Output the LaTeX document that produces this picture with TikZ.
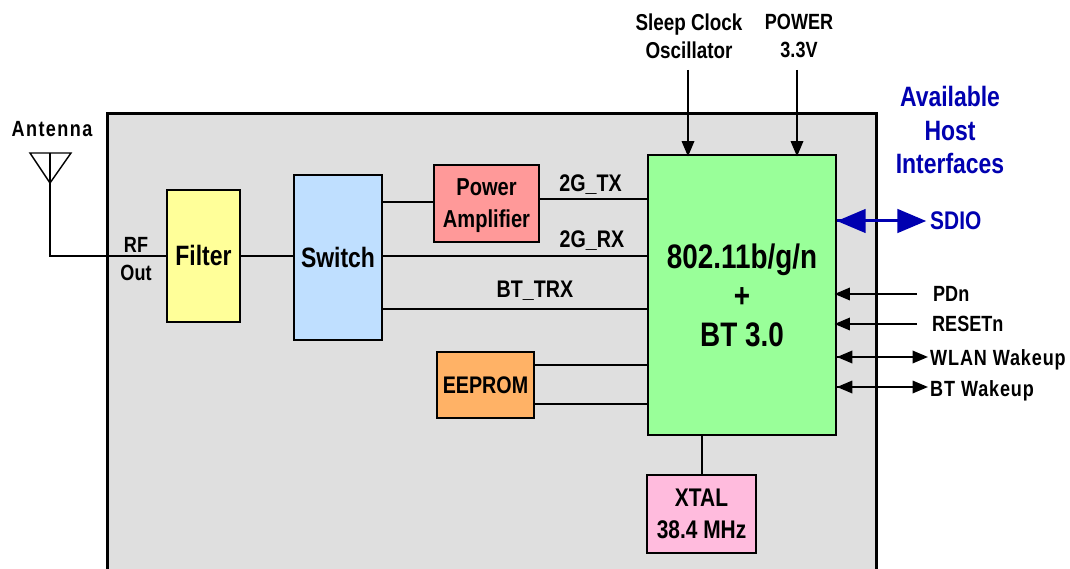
\documentclass[tikz,border=0pt]{standalone}
\usepackage{fontspec}
\setmainfont[FakeStretch=0.82]{Liberation Sans Bold}
\newfontfamily\widefont[FakeStretch=0.82,LetterSpace=4]{Liberation Sans Bold}
\newfontfamily\widerfont[FakeStretch=0.82,LetterSpace=6.5]{Liberation Sans Bold}
\usetikzlibrary{arrows}
\usetikzlibrary{decorations.markings}
\definecolor{chipgray}{HTML}{DFDFDF}
\definecolor{filteryellow}{HTML}{FFFF99}
\definecolor{switchblue}{HTML}{BFDFFF}
\definecolor{amppink}{HTML}{FF9999}
\definecolor{socgreen}{HTML}{99FF99}
\definecolor{eepromorange}{HTML}{FFB266}
\definecolor{xtalpink}{HTML}{FFBBDD}
\definecolor{hostblue}{HTML}{0000B0}
\tikzset{block/.style = {draw, line width=2pt, inner sep=0pt, align=center},
         wire/.style = {line width=2pt},
         small/.style = {inner sep=0pt, align=center, font=\fontsize{22}{28}\selectfont},
         tipend/.style = {decoration={markings,
                                      mark=at position 1 with {\arrow[xshift=2.4pt, scale=#1]{triangle 45}}},
                          postaction={decorate}},
         tipboth/.style = {decoration={markings,
                                       mark=at position 0 with {\arrowreversed[scale=#1]{triangle 45}},
                                       mark=at position 1 with {\arrow[xshift=#1*2.4pt, scale=#1]{triangle 45}}},
                           postaction={decorate}}}

\begin{document}
\begin{tikzpicture}[x=1pt, y=-1pt]
      \useasboundingbox (0, 0) rectangle (1070, 569);

      \fill [chipgray] (107, 114) rectangle (876, 569);
      \draw [line width=3pt] (107, 569) -- (107, 114) -- (876, 114) -- (876, 569);

      \node (filter) [block, fill=filteryellow, minimum width=73pt, minimum height=131pt, font=\fontsize{28}{32}\selectfont] at (203.5, 256) {\raisebox{1pt}{Filter}};
      \node (switch) [block, fill=switchblue, minimum width=88pt, minimum height=165pt, font=\fontsize{28}{32}\selectfont] at (338, 257.5) {\raisebox{1pt}{Switch}};
      \node (amp) [block, fill=amppink, minimum width=105pt, minimum height=77pt, font=\fontsize{24.5}{32}\selectfont] at (486.5, 203.5) {\rule{0pt}{22pt}Power\\Amplifier};
      \node (soc) [block, fill=socgreen, minimum width=188pt, minimum height=280pt, font=\fontsize{34}{39}\selectfont] at (742, 295) {802.11b/g/n\\+\\\rule{0pt}{26pt}BT 3.0};
      \node (eeprom) [block, fill=eepromorange, minimum width=97pt, minimum height=66pt, font=\fontsize{24}{30}\selectfont] at (485.5, 385) {EEPROM};
      \node (xtal) [block, fill=xtalpink, minimum width=109pt, minimum height=78pt, font=\fontsize{25.5}{32}\selectfont] at (701.5, 514) {XTAL\\38.4 MHz};

      % labels
      \node (antenna) [small, font=\fontsize{22}{28}\selectfont\widerfont] at (52, 129) {Antenna};
      \node (rfout) [small] at (136, 259) {RF\\Out};
      \node (sleep) [small, font=\fontsize{23}{28}\selectfont] at (689, 36) {Sleep Clock\\Oscillator};
      \node (power) [small] at (799, 36) {POWER\\3.3V};
      \node (host) [small, text=hostblue, font=\fontsize{28}{33.5}\selectfont] at (950, 130) {Available\\Host\\Interfaces};
      \node (sdio) [small, text=hostblue, font=\fontsize{25.5}{30}\selectfont, anchor=west] at (930, 221) {SDIO};
      \node (txlabel) [small, font=\fontsize{24}{28}\selectfont] at (590.5, 184.5) {2G\_TX};
      \node (rxlabel) [small, font=\fontsize{24}{28}\selectfont] at (592, 241) {2G\_RX};
      \node (btlabel) [small, font=\fontsize{24}{28}\selectfont] at (535, 291) {BT\_TRX};
      \node (pdn) [small, anchor=west] at (933, 294) {PDn};
      \node (resetn) [small, anchor=west] at (932, 324) {RESETn};
      \node (wlan) [small, font=\fontsize{22}{28}\selectfont\widefont, anchor=west] at (930, 360) {WLAN Wakeup};
      \node (btwake) [small, font=\fontsize{22}{28}\selectfont\widefont, anchor=west] at (930, 391) {BT Wakeup};

      % antenna
      \coordinate (anttop) at (50, 153);
      \coordinate (anttip) at (50, 183);
      \draw [line width=1.4pt] (30, 153) -- (71, 153) -- (anttip) -- cycle;
      \draw [wire] (anttop) -- (anttip) -- (anttop |- filter.west) -- (filter.west);

      \draw [wire] (filter.east) -- (switch.west |- filter.east);
      \draw [wire] (switch.east |- 0, 202) -- (amp.west |- 0, 202);
      \draw [wire] (amp.east |- 0, 199) -- (soc.west |- 0, 199);
      \draw [wire] (switch.east |- 0, 256) -- (soc.west |- 0, 256);
      \draw [wire] (switch.east |- 0, 309) -- (soc.west |- 0, 309);
      \draw [wire] (eeprom.east |- 0, 365) -- (soc.west |- 0, 365);
      \draw [wire] (eeprom.east |- 0, 404) -- (soc.west |- 0, 404);
      \draw [wire] (soc.south -| xtal.north) -- (xtal.north);

      \coordinate (sleepend) at (688, 70);
      \coordinate (powerend) at (797, 70);
      \coordinate (pdnend) at (917, 294);
      \coordinate (resetend) at (917, 324);
      \coordinate (wlanend) at (925, 357);
      \coordinate (btend) at (925, 387);
      \coordinate (sdioend) at (922, 221);

      \draw [wire, tipend=1.2] (sleepend) -- (soc.north -| sleepend);
      \draw [wire, tipend=1.2] (powerend) -- (soc.north -| powerend);
      \draw [wire, tipend=1.2] (pdnend) -- (soc.east |- pdnend);
      \draw [wire, tipend=1.2] (resetend) -- (soc.east |- resetend);
      \draw [wire, tipboth=1.2] (soc.east |- wlanend) -- (wlanend);
      \draw [wire, tipboth=1.2] (soc.east |- btend) -- (btend);
      \draw [line width=3pt, hostblue, tipboth=1.7] (soc.east |- sdioend) -- (sdioend);
    \end{tikzpicture}
\end{document}
